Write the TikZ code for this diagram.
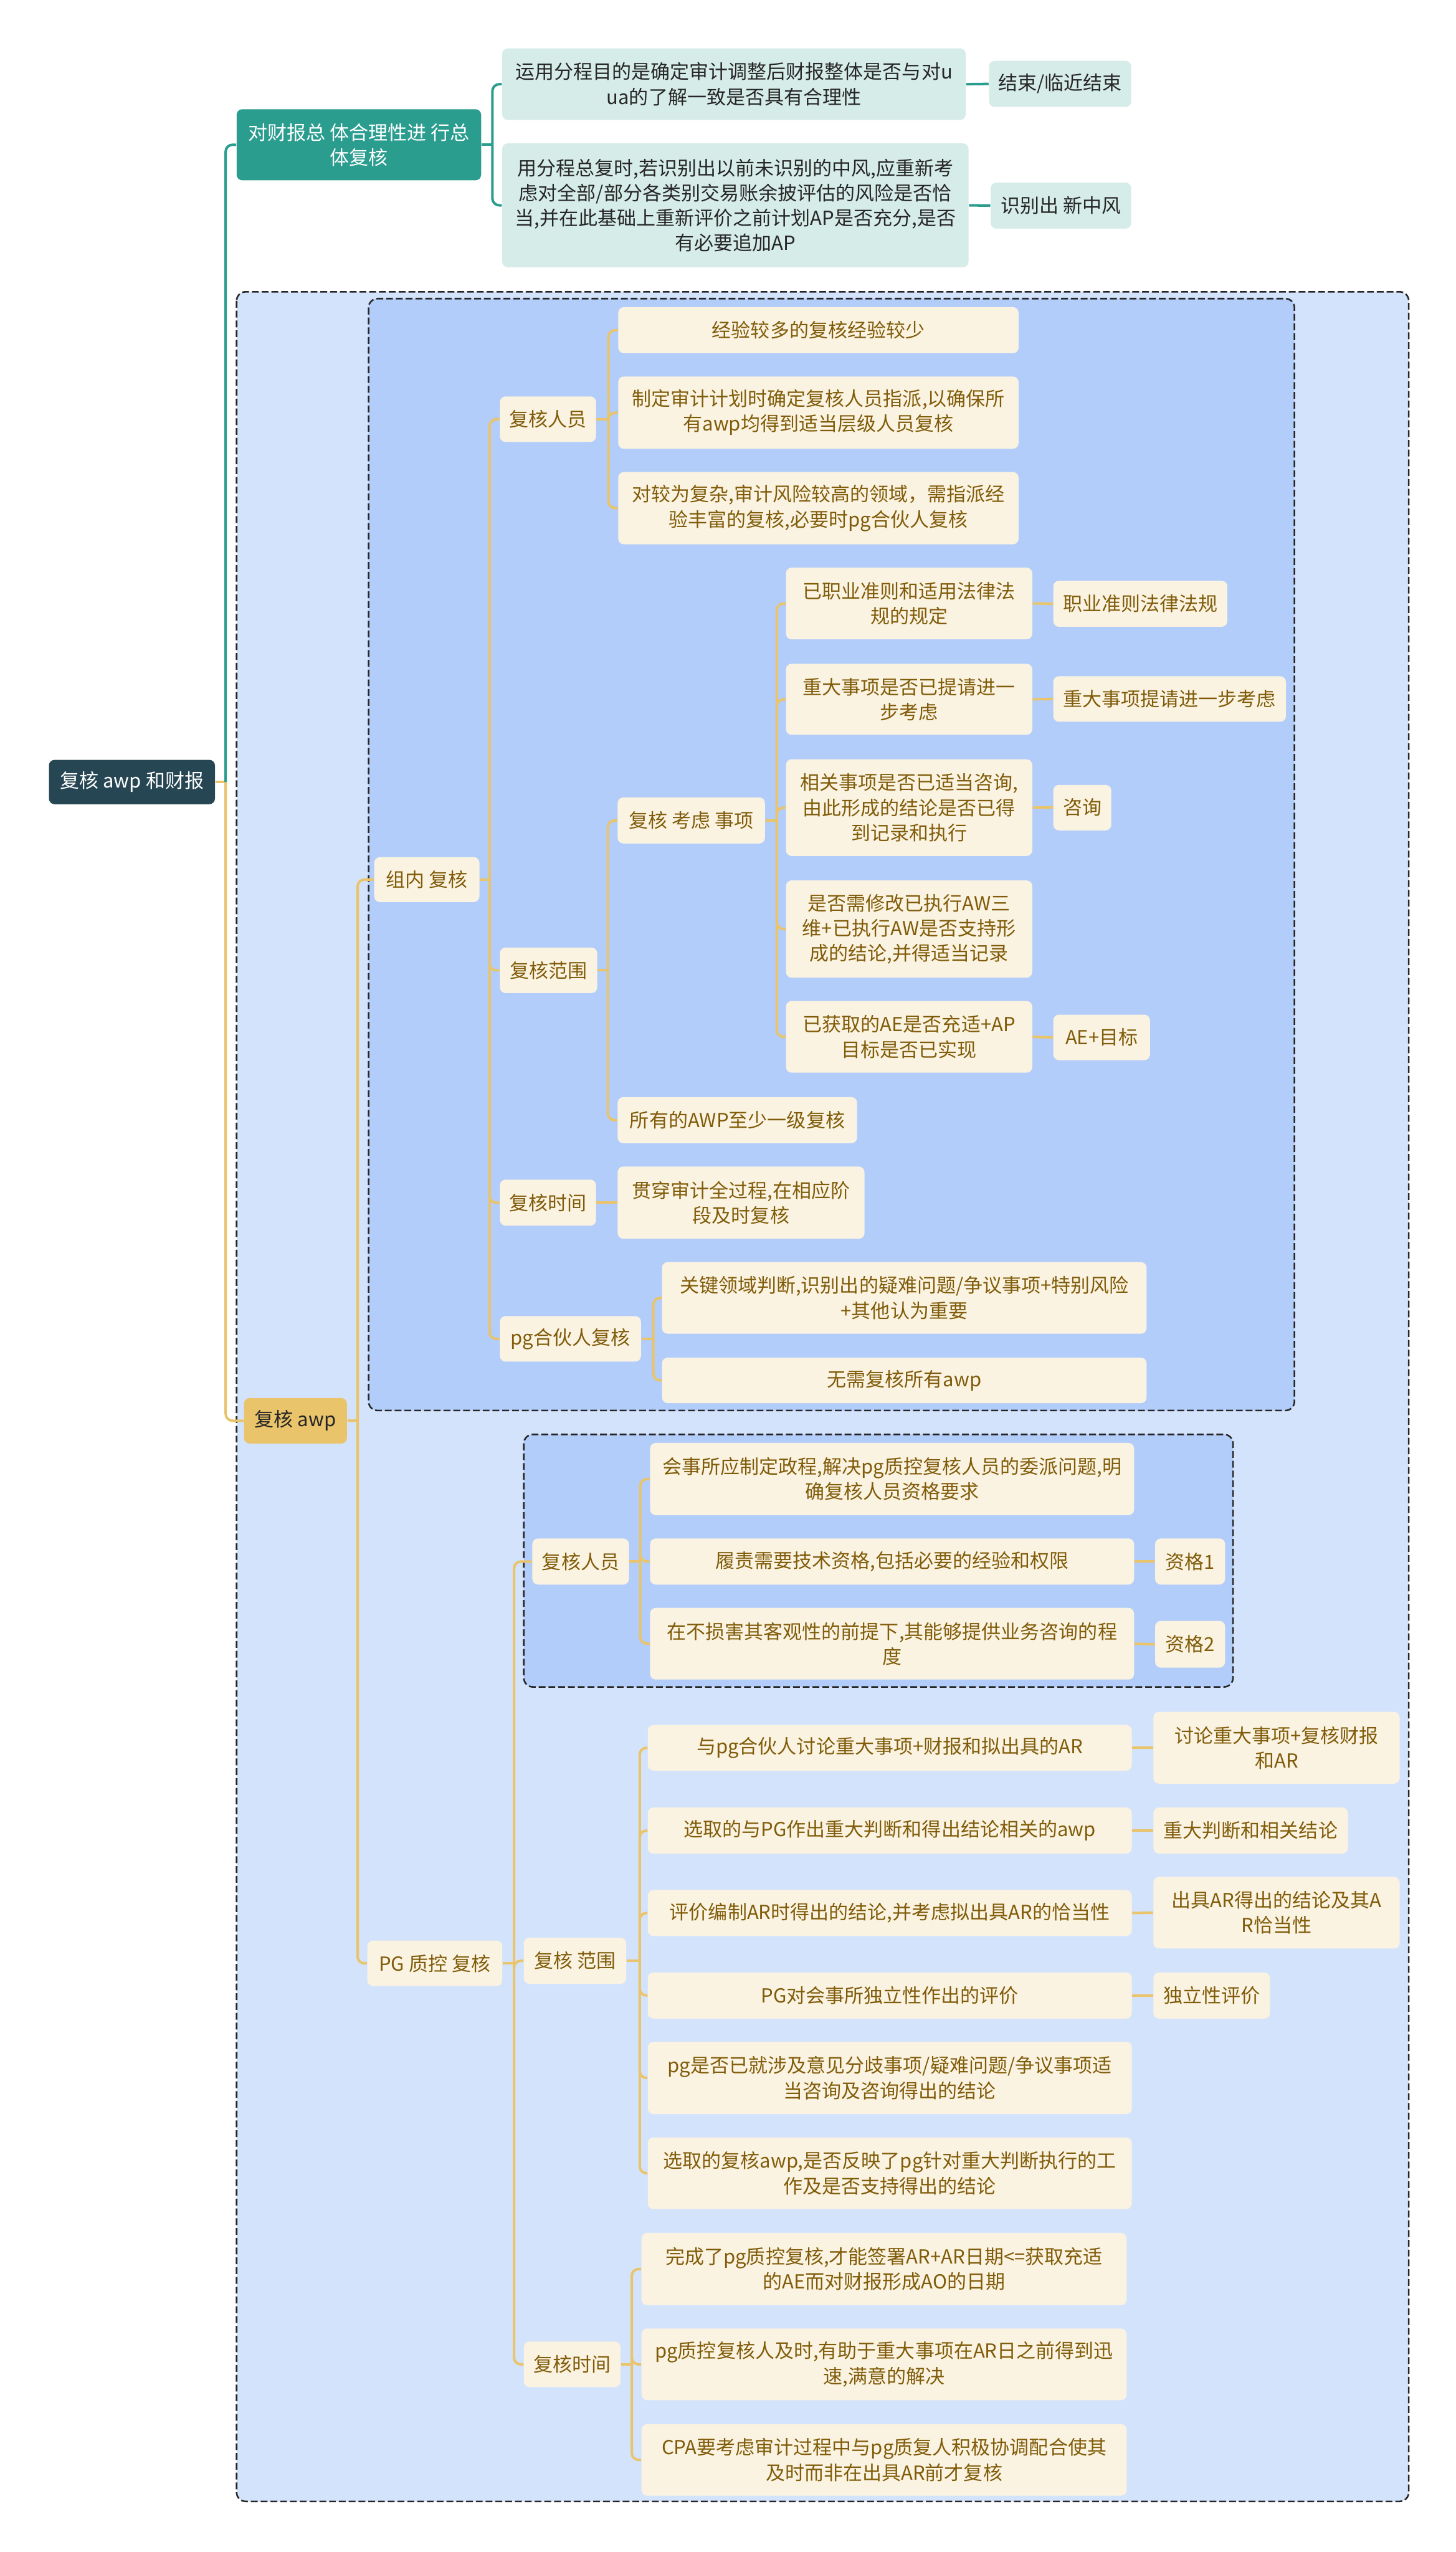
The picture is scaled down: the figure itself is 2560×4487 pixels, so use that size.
\documentclass[tikz,border=0pt]{standalone}
\usepackage{fontspec}
\setmainfont{Noto Sans CJK SC}
\usetikzlibrary{calc}
\definecolor{outerfill}{RGB}{212,227,252}
\definecolor{innerfill}{RGB}{178,205,250}
\definecolor{ybfill}{RGB}{251,243,225}
\definecolor{ytext}{RGB}{128,92,10}
\definecolor{yline}{RGB}{233,196,106}
\definecolor{afill}{RGB}{233,196,106}
\definecolor{tmainfill}{RGB}{42,157,143}
\definecolor{tfill}{RGB}{214,236,232}
\definecolor{tline}{RGB}{42,157,143}
\definecolor{rootfill}{RGB}{38,70,83}
\newcommand\mmfont{\fontsize{8.5pt}{11pt}\selectfont}
\tikzset{
  basebox/.style={rounded corners=2.5pt, inner sep=0pt, align=center, font=\mmfont},
  yb/.style={basebox, fill=ybfill, text=ytext},
  tbox/.style={basebox, fill=tfill, text=black!85},
  tmain/.style={basebox, fill=tmainfill, text=white},
  rootbox/.style={basebox, fill=rootfill, text=white},
  abox/.style={basebox, fill=afill, text=black!85},
  yconn/.style={draw=yline, line width=1.1pt, rounded corners=3pt},
  tconn/.style={draw=tline, line width=1.1pt, rounded corners=3pt},
  groupbox/.style={draw=black!85, dash pattern=on 3pt off 1.3pt, line width=0.7pt, rounded corners=4pt},
}
\newcommand\mmbox[7]{\node[#6, minimum width={(#4-#2)*0.25pt}, minimum height={(#5-#3)*0.25pt}] (#1) at ({(#2+#4)/2},{(#3+#5)/2}) {#7};}
\newcommand\mmfork[4]{%
  \draw[#1] (#2.east) -- ++(#3,0) coordinate (#2j);
  \foreach \c in {#4} {\draw[#1] (#2j) |- (\c.west);}
}
\pgfdeclarelayer{bg}
\pgfdeclarelayer{conn}
\pgfsetlayers{bg,conn,main}
\begin{document}
\begin{tikzpicture}[x=0.25pt,y=-0.25pt]
\begin{pgfonlayer}{bg}
\fill[white] (0,0) rectangle (2560,4487);
\draw[groupbox, fill=outerfill] (416,513) rectangle (2477,4398);
\draw[groupbox, fill=innerfill] (648,525) rectangle (2276,2480);
\draw[groupbox, fill=innerfill] (921,2522) rectangle (2168,2966);
\end{pgfonlayer}
\useasboundingbox (0,0) rectangle (2560,4487);

\mmbox{root}{86}{1336}{378}{1414}{rootbox}{复核 awp 和财报}
\mmbox{T0}{416}{192}{846}{317}{tmain}{对财报总 体合理性进 行总\\体复核}
\mmbox{T1}{883}{85}{1698}{211}{tbox}{运用分程目的是确定审计调整后财报整体是否与对u\\ua的了解一致是否具有合理性}
\mmbox{T1L}{1739}{107}{1989}{188}{tbox}{结束/临近结束}
\mmbox{T2}{883}{252}{1703}{470}{tbox}{用分程总复时,若识别出以前未识别的中风,应重新考\\虑对全部/部分各类别交易账余披评估的风险是否恰\\当,并在此基础上重新评价之前计划AP是否充分,是否\\有必要追加AP}
\mmbox{T2L}{1742}{321}{1989}{402}{tbox}{识别出 新中风}
\mmbox{A}{429}{2458}{610}{2538}{abox}{复核 awp}
\mmbox{G1}{658}{1507}{843}{1586}{yb}{组内 复核}
\mmbox{R1}{879}{697}{1048}{777}{yb}{复核人员}
\mmbox{E1}{1087}{540}{1791}{621}{yb}{经验较多的复核经验较少}
\mmbox{E2}{1087}{662}{1791}{789}{yb}{制定审计计划时确定复核人员指派,以确保所\\有awp均得到适当层级人员复核}
\mmbox{E3}{1087}{830}{1791}{957}{yb}{对较为复杂,审计风险较高的领域，需指派经\\验丰富的复核,必要时pg合伙人复核}
\mmbox{S1}{879}{1666}{1050}{1746}{yb}{复核范围}
\mmbox{K}{1086}{1402}{1345}{1483}{yb}{复核 考虑 事项}
\mmbox{K1}{1382}{998}{1815}{1124}{yb}{已职业准则和适用法律法\\规的规定}
\mmbox{L1}{1852}{1021}{2158}{1102}{yb}{职业准则法律法规}
\mmbox{K2}{1382}{1167}{1815}{1292}{yb}{重大事项是否已提请进一\\步考虑}
\mmbox{L2}{1852}{1189}{2261}{1269}{yb}{重大事项提请进一步考虑}
\mmbox{K3}{1382}{1335}{1815}{1505}{yb}{相关事项是否已适当咨询,\\由此形成的结论是否已得\\到记录和执行}
\mmbox{L3}{1852}{1380}{1954}{1460}{yb}{咨询}
\mmbox{K4}{1382}{1548}{1815}{1719}{yb}{是否需修改已执行AW三\\维+已执行AW是否支持形\\成的结论,并得适当记录}
\mmbox{K5}{1382}{1760}{1815}{1886}{yb}{已获取的AE是否充适+AP\\目标是否已实现}
\mmbox{L5}{1852}{1784}{2022}{1864}{yb}{AE+目标}
\mmbox{AWP}{1086}{1929}{1507}{2010}{yb}{所有的AWP至少一级复核}
\mmbox{Ti1}{879}{2074}{1048}{2155}{yb}{复核时间}
\mmbox{V1}{1086}{2051}{1520}{2178}{yb}{贯穿审计全过程,在相应阶\\段及时复核}
\mmbox{P1}{879}{2314}{1127}{2394}{yb}{pg合伙人复核}
\mmbox{Q1}{1164}{2219}{2016}{2345}{yb}{关键领域判断,识别出的疑难问题/争议事项+特别风险\\+其他认为重要}
\mmbox{Q2}{1164}{2387}{2016}{2467}{yb}{无需复核所有awp}
\mmbox{G2}{646}{3412}{883}{3492}{yb}{PG 质控 复核}
\mmbox{R2}{936}{2705}{1106}{2786}{yb}{复核人员}
\mmbox{M1}{1143}{2537}{1994}{2664}{yb}{会事所应制定政程,解决pg质控复核人员的委派问题,明\\确复核人员资格要求}
\mmbox{M2}{1143}{2705}{1994}{2786}{yb}{履责需要技术资格,包括必要的经验和权限}
\mmbox{M3}{1143}{2827}{1994}{2953}{yb}{在不损害其客观性的前提下,其能够提供业务咨询的程\\度}
\mmbox{Z1}{2031}{2705}{2154}{2786}{yb}{资格1}
\mmbox{Z2}{2031}{2850}{2154}{2932}{yb}{资格2}
\mmbox{S2}{921}{3407}{1101}{3488}{yb}{复核 范围}
\mmbox{N1}{1139}{3033}{1990}{3113}{yb}{与pg合伙人讨论重大事项+财报和拟出具的AR}
\mmbox{O1}{2028}{3010}{2461}{3136}{yb}{讨论重大事项+复核财报\\和AR}
\mmbox{N2}{1139}{3178}{1990}{3259}{yb}{选取的与PG作出重大判断和得出结论相关的awp}
\mmbox{O2}{2028}{3178}{2370}{3259}{yb}{重大判断和相关结论}
\mmbox{N3}{1139}{3323}{1990}{3404}{yb}{评价编制AR时得出的结论,并考虑拟出具AR的恰当性}
\mmbox{O3}{2028}{3300}{2461}{3426}{yb}{出具AR得出的结论及其A\\R恰当性}
\mmbox{N4}{1139}{3468}{1990}{3549}{yb}{PG对会事所独立性作出的评价}
\mmbox{O4}{2028}{3468}{2233}{3549}{yb}{独立性评价}
\mmbox{N5}{1139}{3590}{1990}{3717}{yb}{pg是否已就涉及意见分歧事项/疑难问题/争议事项适\\当咨询及咨询得出的结论}
\mmbox{N6}{1139}{3758}{1990}{3884}{yb}{选取的复核awp,是否反映了pg针对重大判断执行的工\\作及是否支持得出的结论}
\mmbox{Ti2}{921}{4117}{1091}{4197}{yb}{复核时间}
\mmbox{U1}{1128}{3926}{1981}{4053}{yb}{完成了pg质控复核,才能签署AR+AR日期<=获取充适\\的AE而对财报形成AO的日期}
\mmbox{U2}{1128}{4094}{1981}{4220}{yb}{pg质控复核人及时,有助于重大事项在AR日之前得到迅\\速,满意的解决}
\mmbox{U3}{1128}{4262}{1981}{4388}{yb}{CPA要考虑审计过程中与pg质复人积极协调配合使其\\及时而非在出具AR前才复核}

\begin{pgfonlayer}{conn}
\draw[yconn] (root.east) -- ++(18,0) coordinate (rootj);
\draw[yconn] (rootj) |- (A.west);
\draw[tconn] (rootj) |- (T0.west);
\mmfork{tconn}{T0}{19}{T1,T2}
\draw[tconn] (T1.east) -- (T1L.west);
\draw[tconn] (T2.east) -- (T2L.west);
\mmfork{yconn}{A}{18}{G1,G2}
\mmfork{yconn}{G1}{17}{R1,S1,Ti1,P1}
\mmfork{yconn}{R1}{21}{E1,E2,E3}
\mmfork{yconn}{S1}{18}{K,AWP}
\mmfork{yconn}{K}{20}{K1,K2,K3,K4,K5}
\draw[yconn] (K1.east) -- (L1.west);
\draw[yconn] (K2.east) -- (L2.west);
\draw[yconn] (K3.east) -- (L3.west);
\draw[yconn] (K5.east) -- (L5.west);
\draw[yconn] (Ti1.east) -- (V1.west);
\mmfork{yconn}{P1}{21}{Q1,Q2}
\mmfork{yconn}{G2}{20}{R2,S2,Ti2}
\mmfork{yconn}{R2}{19}{M1,M2,M3}
\draw[yconn] (M2.east) -- (Z1.west);
\draw[yconn] (M3.east) -- (Z2.west);
\mmfork{yconn}{S2}{23}{N1,N2,N3,N4,N5,N6}
\draw[yconn] (N1.east) -- (O1.west);
\draw[yconn] (N2.east) -- (O2.west);
\draw[yconn] (N3.east) -- (O3.west);
\draw[yconn] (N4.east) -- (O4.west);
\mmfork{yconn}{Ti2}{19}{U1,U2,U3}
\end{pgfonlayer}
\end{tikzpicture}
\end{document}
